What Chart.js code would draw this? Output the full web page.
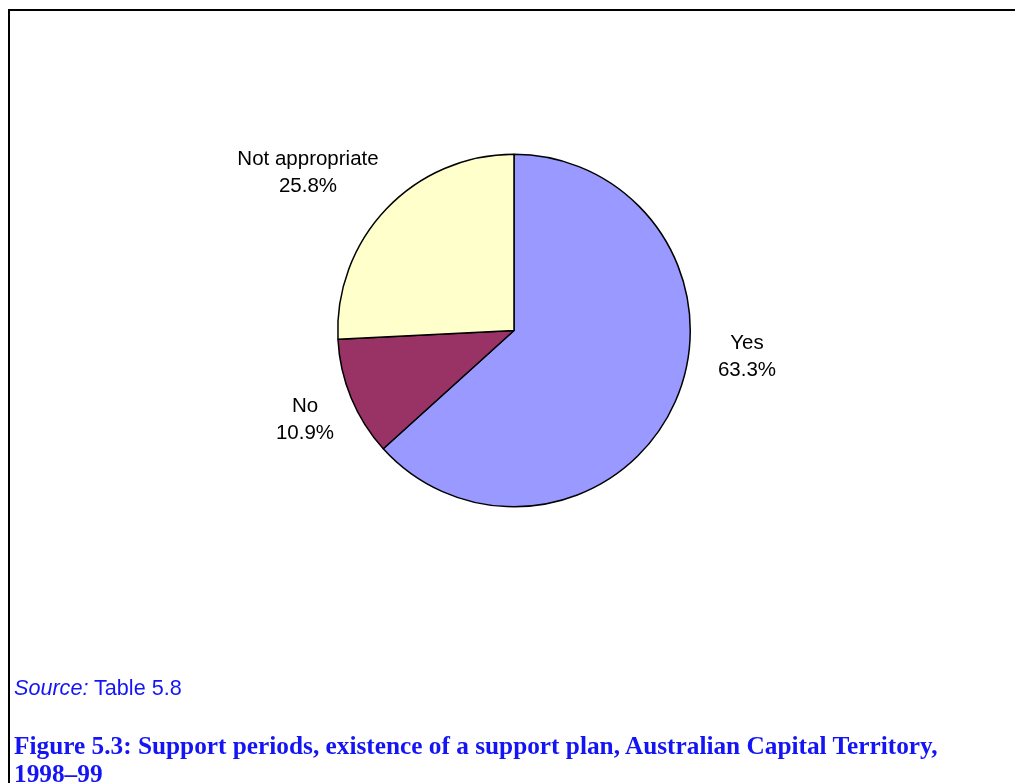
<!DOCTYPE html>
<html>
<head>
<meta charset="utf-8">
<script src="https://cdn.jsdelivr.net/npm/chart.js@4"></script>
<style>
  body { margin: 0; background: #fff; width: 1015px; height: 783px; overflow: hidden; position: relative; }
  #frame { position: absolute; left: 8px; top: 9px; width: 1100px; height: 900px;
           border-top: 2px solid #000; border-left: 2px solid #000; }
  #wrap { position: absolute; left: 0; top: 0; width: 1015px; height: 783px; }
  #source { position: absolute; left: 14px; top: 675px; font: 21.6px "Liberation Sans", Arial, sans-serif; color: #1414f5; }
  #caption { position: absolute; left: 14px; top: 731px; white-space: nowrap; font: bold 25.3px "Liberation Serif", serif;
             line-height: 28px; color: #1414f5; }
</style>
</head>
<body>
<div id="frame"></div>
<div id="wrap"><canvas id="pie" width="1015" height="783"></canvas></div>
<div id="source"><i>Source:</i> Table 5.8</div>
<div id="caption">Figure 5.3: Support periods, existence of a support plan, Australian Capital Territory,<br>1998–99</div>
<script>
const categories = ["Yes", "No", "Not appropriate"];
const shares = [63.3, 10.9, 25.8];
const sliceColors = ['#9999FF', '#993366', '#FFFFCC'];

// label placement relative to pie centre (px), one per slice
const labelOffsets = [[233, 26], [-209, 89], [-206, -158]];

const pieLabels = {
    id: 'pieLabels',
    afterDraw(chart) {
        const ctx = chart.ctx;
        const meta = chart.getDatasetMeta(0);
        ctx.save();
        ctx.font = '20.5px "Liberation Sans", Arial, sans-serif';
        ctx.fillStyle = '#000';
        ctx.textAlign = 'center';
        ctx.textBaseline = 'middle';
        meta.data.forEach(function(arc, i) {
            const x = arc.x + labelOffsets[i][0];
            const y = arc.y + labelOffsets[i][1];
            ctx.fillText(categories[i], x, y - 13.5);
            ctx.fillText(shares[i].toFixed(1) + '%', x, y + 13.5);
        });
        ctx.restore();
    }
};

new Chart(document.getElementById('pie'), {
    type: 'pie',
    plugins: [pieLabels],
    data: {
        labels: categories,
        datasets: [{
            data: shares,
            backgroundColor: sliceColors,
            borderColor: '#000',
            borderWidth: 1.5
        }]
    },
    options: {
        responsive: false,
        animation: false,
        layout: { padding: { left: 337, right: 324, top: 153, bottom: 275 } },
        plugins: {
            legend: { display: false },
            tooltip: { enabled: false }
        }
    }
});
</script>
</body>
</html>
